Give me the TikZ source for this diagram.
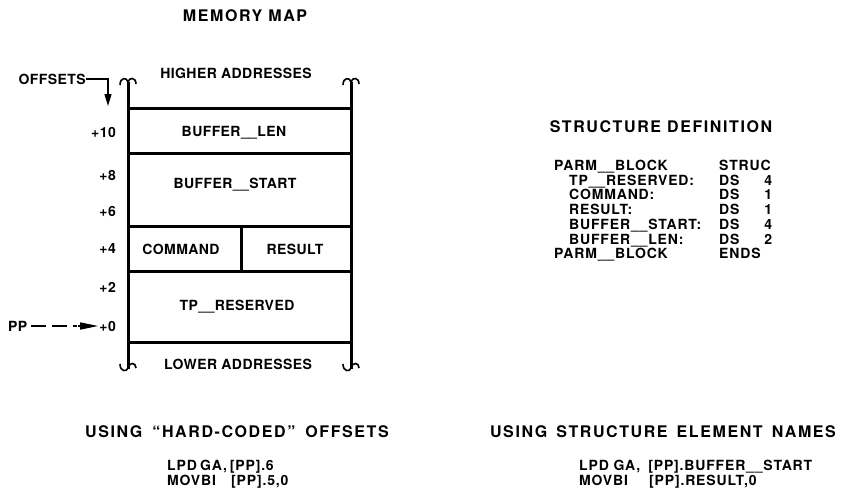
\documentclass[tikz,border=0pt]{standalone}
\usepackage{fontspec}
\setmainfont{TeX Gyre Heros}
\usetikzlibrary{arrows.meta}
\begin{document}
\begin{tikzpicture}[x=1pt,y=-1pt,
  lbl/.style={font=\fontsize{14}{14}\selectfont\bfseries\addfontfeature{LetterSpace=3}, inner sep=0pt},
  off/.style={font=\fontsize{14}{14}\selectfont\bfseries\addfontfeature{LetterSpace=3}, inner sep=0pt, anchor=east},
  head/.style={font=\fontsize{16}{16}\selectfont\bfseries\addfontfeature{LetterSpace=10}, inner sep=0pt},
  code/.style={font=\fontsize{14}{14.7}\selectfont\bfseries\addfontfeature{LetterSpace=6}, inner sep=0pt, anchor=west, align=left},
  wall/.style={line width=3pt},
  curl/.style={line width=1.6pt},
]
\useasboundingbox (0,0) rectangle (841,491);

% title
\node[head] (title) at (245,16) {MEMORY MAP};

% walls
\draw[wall] (128,82) -- (128,369);
\draw[wall] (351,82) -- (351,369);
\draw[curl] (120,85) .. controls (120,77) and (127,77) .. (128,82)
            .. controls (129,77) and (136,77) .. (136,84);
\draw[curl] (343,85) .. controls (343,77) and (350,77) .. (351,82)
            .. controls (352,77) and (359,77) .. (359,84);
\draw[curl] (120,364) .. controls (120,372) and (127,372) .. (128,368)
            .. controls (129,362) and (136,362) .. (136,368);
\draw[curl] (343,364) .. controls (343,372) and (350,372) .. (351,368)
            .. controls (352,362) and (359,362) .. (359,368);

% horizontal divisions
\foreach \yy in {108,153,226,271,342} \draw[wall] (128,\yy) -- (351,\yy);
\draw[wall] (241,226) -- (241,271);

% cell labels
\node[lbl] (higher) at (236,73) {HIGHER ADDRESSES};
\node[lbl] (blen) at (234,133) {BUFFER\_\_LEN};
\node[lbl] (bstart) at (235,185) {BUFFER\_\_START};
\node[lbl] (cmd) at (181,249) {COMMAND};
\node[lbl] (res) at (295,249) {RESULT};
\node[lbl] (tpres) at (237,307) {TP\_\_RESERVED};
\node[lbl] (lower) at (238,364) {LOWER ADDRESSES};

% offsets
\node[off] (o10) at (116,132) {+10};
\node[off] (o8) at (116,175) {+8};
\node[off] (o6) at (116,211) {+6};
\node[off] (o4) at (116,249) {+4};
\node[off] (o2) at (116,287) {+2};
\node[off] (o0) at (116,326) {+0};

\node[lbl, anchor=east] (offsets) at (86,79) {OFFSETS};
\coordinate (offtip) at (108,106);
\draw[line width=1.4pt, -{Triangle[length=12pt,width=7pt]}] (offsets.east) -- (offtip |- offsets.east) -- (offtip);

\node[lbl, anchor=west] (pp) at (8,326) {PP};
\draw[line width=1.4pt, dash pattern=on 15pt off 6pt] ([xshift=4pt]pp.east) -- ([xshift=-22pt]o0.west);
\draw[line width=1.4pt, -{Triangle[length=18pt,width=7pt]}] ([xshift=-21pt]o0.west) -- ([xshift=-1pt]o0.west);

% structure definition
\node[head] (sdef) at (661,127) {STRUCTURE DEFINITION};
\node[code, anchor=north west] (sblock) at (554,160) {%
\makebox[165pt][l]{PARM\_\_BLOCK}STRUC\\
\makebox[165pt][l]{\hspace{15pt}TP\_\_RESERVED:}\makebox[35pt][l]{DS}\makebox[18pt][r]{4}\\
\makebox[165pt][l]{\hspace{15pt}COMMAND:}\makebox[35pt][l]{DS}\makebox[18pt][r]{1}\\
\makebox[165pt][l]{\hspace{15pt}RESULT:}\makebox[35pt][l]{DS}\makebox[18pt][r]{1}\\
\makebox[165pt][l]{\hspace{15pt}BUFFER\_\_START:}\makebox[35pt][l]{DS}\makebox[18pt][r]{4}\\
\makebox[165pt][l]{\hspace{15pt}BUFFER\_\_LEN:}\makebox[35pt][l]{DS}\makebox[18pt][r]{2}\\
\makebox[165pt][l]{PARM\_\_BLOCK}ENDS};

% bottom
\node[head] (hard) at (237,432) {USING\hspace{4pt} ``HARD-CODED''\hspace{4pt} OFFSETS};
\node[head] (names) at (663,432) {USING\hspace{3pt} STRUCTURE\hspace{3pt} ELEMENT\hspace{3pt} NAMES};
\node[code] (hc) at (167,474) {\makebox[33pt][l]{LPD}GA,\hspace{3pt}[PP].6\\
\makebox[64pt][l]{MOVBI}[PP].5,0};
\node[code] (sc) at (579,474) {LPD GA,\hspace{8pt}[PP].BUFFER\_\_START\\
\makebox[70pt][l]{MOVBI}[PP].RESULT,0};
\end{tikzpicture}
\end{document}
